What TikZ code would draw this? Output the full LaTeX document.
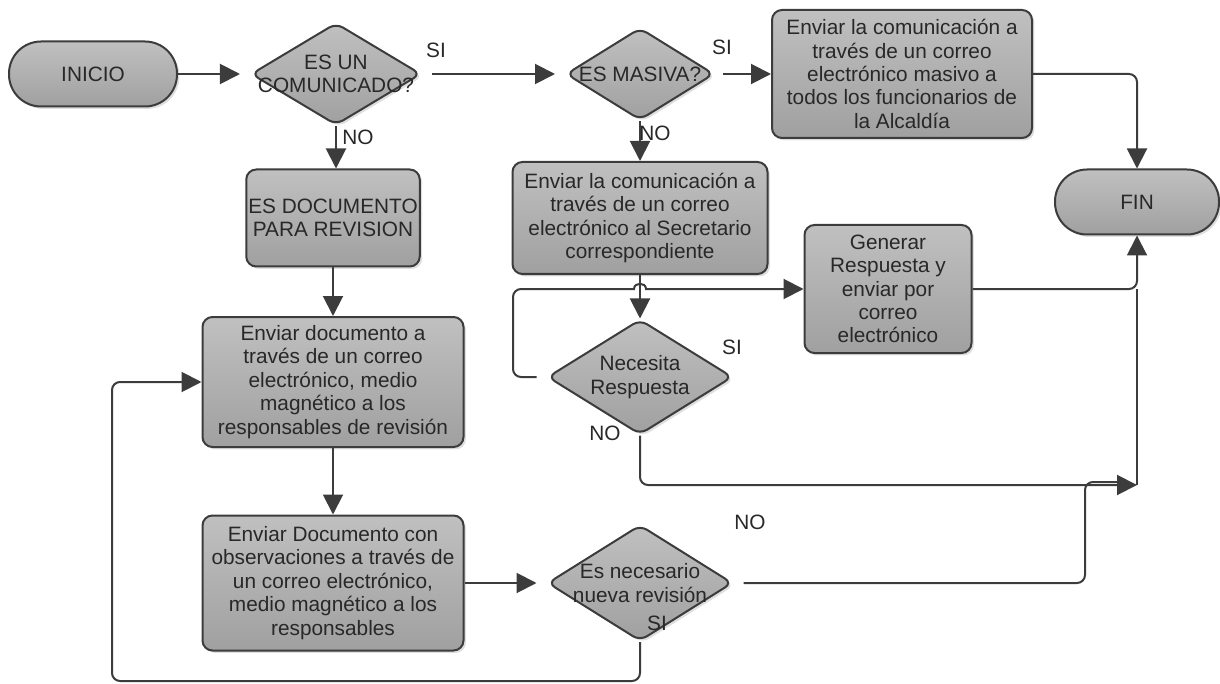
\documentclass[tikz,border=0pt]{standalone}
\usepackage{fontspec}
\setmainfont{Liberation Sans}
\usetikzlibrary{shapes.geometric,arrows.meta,shadows}
\definecolor{filltop}{RGB}{192,192,192}
\definecolor{fillbot}{RGB}{160,160,160}
\definecolor{linec}{RGB}{60,60,60}
\definecolor{textc}{RGB}{40,40,40}
\begin{document}
\begin{tikzpicture}[x=0.5pt,y=-0.5pt,
  font=\fontsize{10.4}{11.7}\selectfont,
  base/.style={draw=linec, line width=1pt, top color=filltop, bottom color=fillbot, text=textc,
    drop shadow={shadow xshift=1.2pt,shadow yshift=-1.2pt,opacity=0.25}},
  term/.style={base, rectangle, rounded corners=16pt, minimum width=84pt, minimum height=32.5pt},
  proc/.style={base, rectangle, rounded corners=5pt, align=center, inner sep=1pt},
  dec/.style={base, diamond, rounded corners=4pt, inner sep=0pt},
  dtext/.style={text=textc, align=center},
  conn/.style={draw=linec, line width=1pt, -{Triangle[length=10pt,width=10pt]}},
  plain/.style={draw=linec, line width=1pt},
  lbl/.style={text=textc, font=\fontsize{10.4}{11}\selectfont}
]
\useasboundingbox (0,0) rectangle (1220,684);

% nodes
\node[term] (ini) at (93,74) {INICIO};
\node[dec, minimum width=85pt, minimum height=51pt,
  label={[dtext]center:ES UN\\COMUNICADO?}] (d1) at (336,74) {};
\node[dec, minimum width=74pt, minimum height=46pt,
  label={[dtext]center:ES MASIVA?}] (d2) at (640,74) {};
\node[proc, minimum width=130pt, minimum height=64pt] (p1) at (902,74)
  {Enviar la comunicación a\\través de un correo\\electrónico masivo a\\todos los funcionarios de\\la Alcaldía};
\node[term, minimum width=82pt] (fin) at (1137,202) {FIN};
\node[proc, minimum width=127.5pt, minimum height=56pt] (p2) at (640,218)
  {Enviar la comunicación a\\través de un correo\\electrónico al Secretario\\correspondiente};
\node[dec, minimum width=92.5pt, minimum height=57.5pt,
  label={[dtext]center:Necesita\\Respuesta}] (d3) at (640,377) {};
\node[proc, minimum width=83.5pt, minimum height=64pt] (p3) at (888,289)
  {Generar\\Respuesta y\\enviar por\\correo\\electrónico};
\node[proc, minimum width=82.5pt, minimum height=48.5pt] (p4) at (333,218)
  {ES DOCUMENTO\\PARA REVISION};
\node[proc, minimum width=130.5pt, minimum height=65pt] (p5) at (333,382)
  {Enviar documento a\\través de un correo\\electrónico, medio\\magnético a los\\responsables de revisión};
\node[proc, minimum width=130.5pt, minimum height=67.5pt] (p6) at (333,583)
  {Enviar Documento con\\observaciones a través de\\un correo electrónico,\\medio magnético a los\\responsables};
\node[dec, minimum width=92.5pt, minimum height=58pt,
  label={[dtext]center:Es necesario\\nueva revisión}] (d4) at (640,583) {};

% helper coordinates
\coordinate (hl) at (513,289);
\coordinate (j) at (1137,485);
\coordinate (j2) at (1122,482);
\coordinate (k) at (1085,482);
\coordinate (lp) at (112,681);

% connectors
\draw[conn, shorten >=5pt] (ini) -- (d1);
\draw[conn, shorten <=5pt, shorten >=5pt] (d1) -- (d2);
\draw[conn, shorten <=4pt] (d2) -- (p1);
\draw[conn, rounded corners=4pt] (p1.east) -| (fin.north);
\draw[conn] (d1.south) -- (d1.south |- p4.north);
\draw[conn] (p4) -- (p5);
\draw[conn] (p5) -- (p6);
\draw[conn, shorten >=5pt] (p6) -- (d4);
\draw[conn, rounded corners=4pt] (d4.south) |- (lp) |- (p5.west);
\draw[conn] (d2) -- (p2);
\draw[conn] (p2) -- (d3);
\draw[conn, shorten <=5pt] [rounded corners=4pt] (d3.west) -| (hl) [sharp corners] -- (634,289)
  .. controls (634,282) and (646,282) .. (646,289) -- (p3.west);
\draw[conn, rounded corners=4pt] (p3.east) -| (fin.south);
\draw[conn, rounded corners=4pt] (d3.south) |- (j);
\draw[plain, rounded corners=4pt, shorten <=5pt] (d4.east) -| (k) -- (j2);
\draw[plain] (j) -- (fin.south |- p3.east);

% labels
\node[lbl] (l1) at (436,50) {SI};
\node[lbl] (l2) at (722,47) {SI};
\node[lbl] (l3) at (358,137) {NO};
\node[lbl] (l4) at (655,133) {NO};
\node[lbl] (l5) at (732,347) {SI};
\node[lbl] (l6) at (605,433) {NO};
\node[lbl] (l7) at (750,522) {NO};
\node[lbl] (l8) at (657,623) {SI};
\end{tikzpicture}
\end{document}
